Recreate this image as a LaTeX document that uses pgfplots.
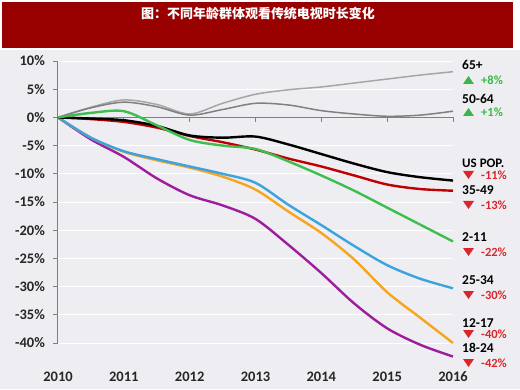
\documentclass[border=0pt]{standalone}
\usepackage{pgfplots}
\pgfplotsset{compat=1.18}
\usepackage{pgfplotstable}
\usepackage{fontspec}
\setmainfont{Carlito}
\newfontfamily\cjk{Noto Sans CJK SC}
\definecolor{bgc}{HTML}{EEEEF2}
\definecolor{titlered}{HTML}{990000}
\definecolor{axgray}{HTML}{7F7F7F}
\definecolor{gA}{HTML}{A6A6A6}
\definecolor{gB}{HTML}{808080}
\definecolor{cred}{HTML}{C00000}
\definecolor{cgreen}{HTML}{3DBE4F}
\definecolor{cblue}{HTML}{3BA3DD}
\definecolor{corange}{HTML}{F7A51C}
\definecolor{cpurple}{HTML}{9E1C9E}
\definecolor{lblred}{HTML}{D9262B}
\definecolor{lblgreen}{HTML}{3DB54A}

\pgfplotstableread{
year   s65   s5064  us     s3549  s211   s2534  s1217  s1824
2010   0     0      0      0      0      0      0      0
2010.5 1.8   1.7    -0.2   -0.3   0.8    -3.6   -3.6   -3.9
2011   3.1   2.7    -0.5   -0.8   1.1    -6.0   -6.1   -7.0
2011.5 2.3   1.9    -1.5   -1.8   -1.4   -7.4   -7.6   -10.8
2012   0.6   0.4    -3.2   -3.3   -4.0   -8.7   -8.9   -13.8
2012.5 2.5   1.4    -3.6   -4.4   -5.0   -10.0  -10.5  -15.6
2013   4.1   2.5    -3.4   -5.7   -5.6   -11.6  -12.8  -18.0
2013.5 4.9   2.2    -4.8   -7.3   -7.8   -15.5  -16.7  -22.6
2014   5.4   1.2    -6.5   -8.7   -10.3  -19.1  -20.5  -27.6
2014.5 6.1   0.6    -8.2   -10.3  -13.0  -22.8  -25.2  -33.0
2015   6.8   0.2    -9.7   -11.9  -16.0  -26.2  -31.0  -37.4
2015.5 7.5   0.4    -10.6  -12.7  -19.0  -28.6  -35.5  -40.3
2016   8.1   1.1    -11.2  -13.0  -22.0  -30.3  -40.0  -42.4
}\data

\begin{document}
\begin{tikzpicture}
\useasboundingbox (0pt,0pt) rectangle (520pt,389pt);
\fill[white] (0pt,0pt) rectangle (520pt,389pt);
\fill[bgc] (0pt,0pt) rectangle (520pt,339pt);
\fill[titlered] (2pt,341pt) rectangle (513pt,387pt);
\node[text=white, font=\cjk\bfseries\fontsize{13}{15}\selectfont] at (258pt,375pt) {图：不同年龄群体观看传统电视时长变化};
\begin{axis}[
  at={(58pt,46pt)}, anchor=south west, scale only axis,
  width=395pt, height=282pt,
  xmin=2010, xmax=2016, ymin=-40, ymax=10,
  clip=false,
  axis y line*=left, axis x line*=bottom,
  x axis line style={draw=none},
  y axis line style={draw=axgray, line width=1pt},
  xtick={2010,2011,2012,2013,2014,2015,2016},
  xticklabels={2010,2011,2012,2013,2014,2015,2016},
  xtick style={draw=none},
  ytick={-40,-35,...,10},
  yticklabel={\pgfmathprintnumber{\tick}\%},
  /pgf/number format/assume math mode=true,
  ytick style={draw=axgray, line width=0.8pt},
  tick align=outside, major tick length=5pt,
  ymajorgrids, major grid style={white, line width=1pt},
  ticklabel style={font=\bfseries\fontsize{14.5}{16}\selectfont, text=black!85},
  xticklabel style={anchor=center, yshift=-29pt},
  yticklabel style={anchor=east, inner sep=0pt, xshift=-8pt},
]
\draw[axgray, line width=1pt] (axis cs:2010,0) -- (axis cs:2016,0);
\draw[axgray, line width=1pt] (axis cs:2011,0) -- (axis cs:2011,-0.9);
\draw[axgray, line width=1pt] (axis cs:2012,0) -- (axis cs:2012,-0.9);
\draw[axgray, line width=1pt] (axis cs:2013,0) -- (axis cs:2013,-0.9);
\draw[axgray, line width=1pt] (axis cs:2014,0) -- (axis cs:2014,-0.9);
\draw[axgray, line width=1pt] (axis cs:2015,0) -- (axis cs:2015,-0.9);
\draw[axgray, line width=1pt] (axis cs:2016,0) -- (axis cs:2016,-0.9);
\addplot[gA, line width=1.5pt, smooth] table[x=year, y=s65] {\data};
\addplot[gB, line width=1.5pt, smooth] table[x=year, y=s5064] {\data};
\addplot[cpurple, line width=2.4pt, smooth] table[x=year, y=s1824] {\data};
\addplot[corange, line width=2.4pt, smooth] table[x=year, y=s1217] {\data};
\addplot[cblue, line width=2.4pt, smooth] table[x=year, y=s2534] {\data};
\addplot[cred, line width=2.4pt, smooth] table[x=year, y=s3549] {\data};
\addplot[black, line width=2.4pt, smooth] table[x=year, y=us] {\data};
\addplot[cgreen, line width=2.4pt, smooth] table[x=year, y=s211] {\data};
\end{axis}
\begin{scope}[every node/.style={anchor=west, inner sep=0pt}]
\node[font=\bfseries\fontsize{13.5}{15}\selectfont] at (462pt,324pt) {65+};
\fill[lblgreen] (463pt,305pt) -- (474pt,305pt) -- (468.5pt,313pt) -- cycle;
\node[font=\bfseries\fontsize{12.5}{14}\selectfont, text=lblgreen] at (481pt,309pt) {+8\%};
\node[font=\bfseries\fontsize{13.5}{15}\selectfont] at (462pt,290pt) {50-64};
\fill[lblgreen] (463pt,273pt) -- (474pt,273pt) -- (468.5pt,281pt) -- cycle;
\node[font=\bfseries\fontsize{12.5}{14}\selectfont, text=lblgreen] at (481pt,277pt) {+1\%};
\node[font=\bfseries\fontsize{13pt}{15}\selectfont] at (462pt,226pt) {US POP.};
\fill[lblred] (463pt,218pt) -- (474pt,218pt) -- (468.5pt,210pt) -- cycle;
\node[font=\bfseries\fontsize{12.5}{14}\selectfont, text=lblred] at (481pt,214pt) {-11\%};
\node[font=\bfseries\fontsize{13.5}{15}\selectfont] at (462pt,199pt) {35-49};
\fill[lblred] (463pt,188pt) -- (474pt,188pt) -- (468.5pt,180pt) -- cycle;
\node[font=\bfseries\fontsize{12.5}{14}\selectfont, text=lblred] at (481pt,184pt) {-13\%};
\node[font=\bfseries\fontsize{13.5}{15}\selectfont] at (462pt,152pt) {2-11};
\fill[lblred] (463pt,141pt) -- (474pt,141pt) -- (468.5pt,133pt) -- cycle;
\node[font=\bfseries\fontsize{12.5}{14}\selectfont, text=lblred] at (481pt,137pt) {-22\%};
\node[font=\bfseries\fontsize{13.5}{15}\selectfont] at (462pt,109pt) {25-34};
\fill[lblred] (463pt,98pt) -- (474pt,98pt) -- (468.5pt,90pt) -- cycle;
\node[font=\bfseries\fontsize{12.5}{14}\selectfont, text=lblred] at (481pt,94pt) {-30\%};
\node[font=\bfseries\fontsize{13.5}{15}\selectfont] at (462pt,66pt) {12-17};
\fill[lblred] (463pt,59pt) -- (474pt,59pt) -- (468.5pt,51pt) -- cycle;
\node[font=\bfseries\fontsize{12.5}{14}\selectfont, text=lblred] at (481pt,55pt) {-40\%};
\node[font=\bfseries\fontsize{13.5}{15}\selectfont] at (462pt,41pt) {18-24};
\fill[lblred] (463pt,30pt) -- (474pt,30pt) -- (468.5pt,22pt) -- cycle;
\node[font=\bfseries\fontsize{12.5}{14}\selectfont, text=lblred] at (481pt,26pt) {-42\%};
\end{scope}
\end{tikzpicture}
\end{document}
